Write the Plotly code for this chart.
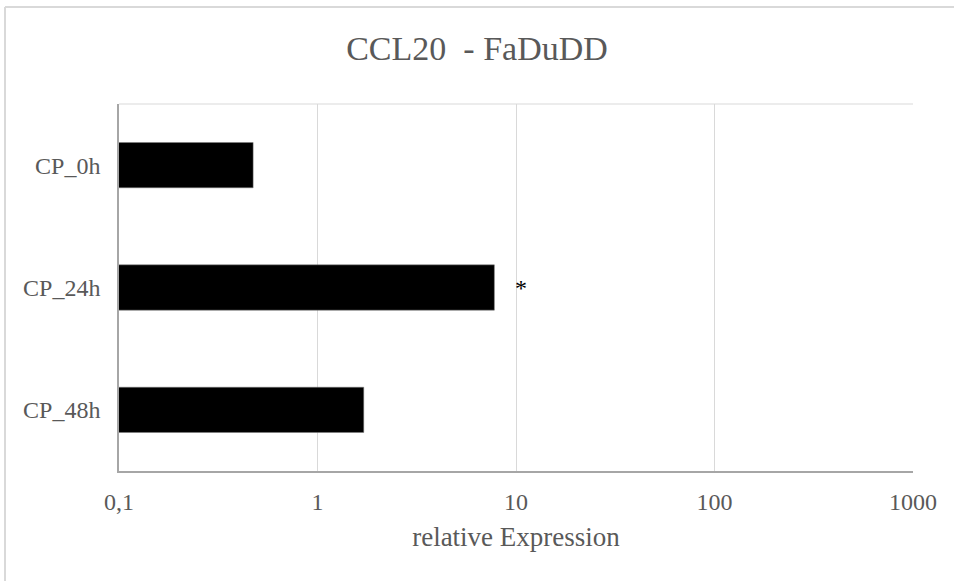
import math
import plotly.graph_objects as go

categories = ["CP_0h", "CP_24h", "CP_48h"]
values = [0.474, 7.78, 1.71]
significance = ["", "*", ""]
tick_vals = [0.1, 1, 10, 100, 1000]
tick_text = ["0,1", "1", "10", "100", "1000"]

SERIF = "Liberation Serif, Times New Roman, serif"
GRAY = "#595959"

fig = go.Figure()
fig.add_trace(go.Bar(
    y=categories, x=values, orientation="h",
    marker=dict(color="black", line=dict(color="#7f7f7f", width=0.5)),
    hoverinfo="x+y",
))

annotations = []
for c, v, s in zip(categories, values, significance):
    if s:
        annotations.append(dict(x=math.log10(v), y=c, xref="x", yref="y", text=s, showarrow=False,
                                xanchor="left", xshift=19, yshift=0,
                                font=dict(family=SERIF, size=24, color="black")))

W, H = 954, 581
L, R, T, B = 119, 41, 104, 110
pw, ph = W - L - R, H - T - B
fx0 = (5 - L) / pw
fy1 = (H - B - 7) / ph

fig.update_layout(
    width=W, height=H,
    margin=dict(l=L, r=R, t=T, b=B),
    paper_bgcolor="white", plot_bgcolor="white",
    showlegend=False,
    bargap=0.63,
    title=dict(text="CCL20 \u00a0- FaDuDD", x=0.5, xref="container", xanchor="center",
               y=1 - 48 / H, yanchor="middle",
               font=dict(family=SERIF, size=34, color=GRAY)),
    xaxis=dict(type="log", range=[-1, 3], tickvals=tick_vals, ticktext=tick_text,
               showgrid=True, gridcolor="#d9d9d9", gridwidth=1,
               showline=True, linecolor="#a6a6a6", linewidth=1.5,
               zeroline=False, ticks="",
               ticklabelstandoff=8,
               tickfont=dict(family=SERIF, size=24, color=GRAY),
               title=dict(text="relative Expression", standoff=14,
                          font=dict(family=SERIF, size=27, color=GRAY))),
    yaxis=dict(autorange="reversed", showgrid=False, showline=True,
               linecolor="#a6a6a6", linewidth=1.5, ticks="",
               ticklabelstandoff=12,
               tickfont=dict(family=SERIF, size=24, color=GRAY)),
    annotations=annotations,
    shapes=[
        dict(type="line", xref="paper", yref="paper", x0=0, x1=1, y0=1, y1=1,
             line=dict(color="#d9d9d9", width=1)),
        dict(type="line", xref="paper", yref="paper", x0=fx0, x1=fx0, y0=fy1, y1=-1,
             line=dict(color="#d9d9d9", width=2)),
        dict(type="line", xref="paper", yref="paper", x0=fx0, x1=2, y0=fy1, y1=fy1,
             line=dict(color="#d9d9d9", width=2)),
    ],
)

fig.write_html("out.html")
